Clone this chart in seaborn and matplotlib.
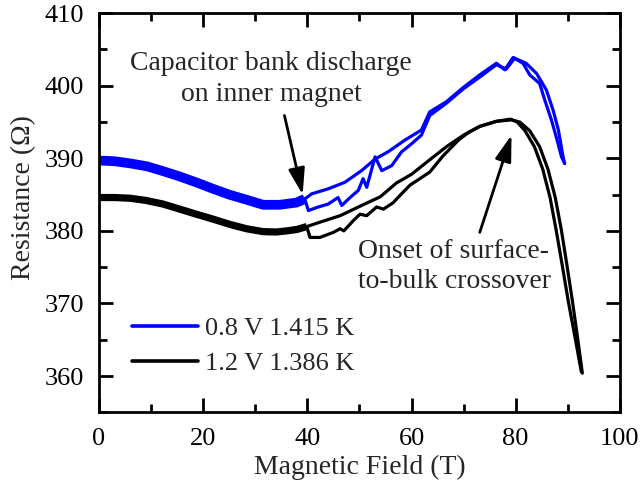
import numpy as np
import pandas as pd
import matplotlib
matplotlib.use("Agg")
import matplotlib.pyplot as plt
import seaborn as sns
from matplotlib.lines import Line2D
from matplotlib.ticker import MultipleLocator

# ---------------- data ----------------
series_labels = ["0.8 V 1.415 K", "1.2 V 1.386 K"]

# 0.8 V : slow outer-magnet part (0-40 T)
blue_outer_B = [0, 3, 6, 9.2, 12, 15.5, 19, 21.9, 25, 28.3, 31.5, 34.7, 37.9, 39.5]
blue_outer_R = [389.7, 389.6, 389.3, 388.9, 388.3, 387.5, 386.6, 385.8, 385.0, 384.3,
                383.6, 383.6, 383.9, 384.4]
# 0.8 V : rising pulse
blue_rise_B = [39.5, 40.2, 42.1, 44.0, 45.9, 46.6, 48.2, 49.8, 50.7, 51.4, 53.0, 54.3,
               56.2, 58.1, 60.0, 61.9, 63.5, 66.7, 70.0, 73.1, 76.3, 78.2, 79.8, 82.0,
               84.0, 85.9, 87.2, 88.2, 89.1, 89.4]
blue_rise_R = [384.4, 382.8, 383.3, 383.7, 384.6, 383.5, 384.6, 385.6, 387.2, 386.0,
               390.2, 388.3, 389.0, 390.9, 392.0, 393.2, 395.9, 397.6, 399.6, 401.2,
               402.9, 402.3, 403.8, 403.1, 401.7, 399.4, 396.6, 393.9, 390.2, 389.3]
# 0.8 V : falling pulse
blue_fall_B = [89.4, 88.8, 87.8, 86.9, 85.6, 84.6, 82.7, 81.4, 79.5, 77.9, 76.3, 73.1,
               70.0, 66.7, 63.5, 61.9, 58.7, 55.5, 53.0, 50.4, 47.2, 44.0, 40.8, 39.5]
blue_fall_R = [389.3, 390.2, 392.9, 395.2, 398.0, 400.3, 401.5, 403.1, 403.9, 402.2,
               403.1, 401.5, 399.8, 397.8, 396.4, 393.9, 392.5, 390.9, 389.9, 388.3,
               386.7, 385.8, 385.1, 384.4]

# 1.2 V : slow outer-magnet part
black_outer_B = [0, 3, 6, 9, 12.3, 15.5, 18.7, 22, 25.1, 28.3, 31.5, 34, 36, 38, 39.9]
black_outer_R = [384.6, 384.6, 384.5, 384.2, 383.7, 383.0, 382.3, 381.6, 380.9, 380.3,
                 379.9, 379.85, 380.0, 380.2, 380.6]
# 1.2 V : rising pulse
black_rise_B = [39.9, 40.5, 42.4, 45.0, 46.3, 47.0, 48.8, 50.1, 51.4, 53.3, 54.6, 56.5,
                57.8, 59.7, 61.6, 63.5, 66.0, 69.0, 71.0, 73.1, 76.3, 79.2, 80.8, 82.7,
                84.6, 86.2, 87.6, 88.8, 89.9, 90.9, 91.8, 92.8]
black_rise_R = [380.6, 379.1, 379.1, 379.8, 380.3, 380.0, 381.4, 382.3, 382.1, 383.3,
                383.0, 383.9, 384.9, 386.3, 387.2, 388.1, 390.3, 392.5, 393.6, 394.4,
                395.1, 395.3, 395.0, 393.8, 391.6, 388.5, 384.6, 380.0, 375.0, 370.3,
                365.7, 360.4]
# 1.2 V : falling pulse
black_fall_B = [92.6, 91.3, 90.1, 89.0, 87.8, 86.6, 85.2, 83.6, 81.8, 80.3, 79.0, 76.3,
                73.1, 70.0, 66.7, 63.5, 60.0, 57.1, 54.0, 50.4, 46.3, 42.4, 39.9]
black_fall_R = [360.6, 365.7, 370.3, 375.0, 380.0, 384.6, 388.5, 391.6, 393.8, 395.0,
                395.4, 395.1, 394.4, 393.2, 391.6, 389.8, 387.8, 386.6, 384.7, 383.5,
                382.1, 381.2, 380.6]

x_ticks = [0, 20, 40, 60, 80, 100]
y_ticks = [360, 370, 380, 390, 400, 410]

# ---------------- build tidy frame ----------------
def seg(B, R, series, part):
    return pd.DataFrame({"B": B, "R": R, "series": series, "part": part})

df = pd.concat([
    seg(blue_outer_B, blue_outer_R, series_labels[0], "outer"),
    seg(blue_rise_B, blue_rise_R, series_labels[0], "rise"),
    seg(blue_fall_B, blue_fall_R, series_labels[0], "fall"),
    seg(black_outer_B, black_outer_R, series_labels[1], "outer"),
    seg(black_rise_B, black_rise_R, series_labels[1], "rise"),
    seg(black_fall_B, black_fall_R, series_labels[1], "fall"),
], ignore_index=True)

colors = {series_labels[0]: "#0000FF", series_labels[1]: "#000000"}
outer_lw = {series_labels[0]: 7.0, series_labels[1]: 5.2}

# ---------------- figure ----------------
sns.set_theme(style="ticks")
plt.rcParams["font.family"] = ["Liberation Serif", "DejaVu Serif"]

fig = plt.figure(figsize=(6.43, 4.88), dpi=100)
ax = fig.add_axes([0.154, 0.155, 0.810, 0.818])

for s in series_labels:
    sub = df[df.series == s]
    for part in ["rise", "fall"]:
        d = sub[sub.part == part]
        sns.lineplot(data=d, x="B", y="R", sort=False, estimator=None, ax=ax,
                     color=colors[s], lw=2.3, legend=False)
    d = sub[sub.part == "outer"]
    sns.lineplot(data=d, x="B", y="R", sort=False, estimator=None, ax=ax,
                 color=colors[s], lw=outer_lw[s], legend=False,
                 solid_capstyle="butt")

ax.set_xlim(0, 100)
ax.set_ylim(355, 410)
ax.set_xticks(x_ticks)
ax.set_yticks(y_ticks)
ax.xaxis.set_minor_locator(MultipleLocator(10))
ax.yaxis.set_minor_locator(MultipleLocator(5))

for sp in ax.spines.values():
    sp.set_visible(True)
    sp.set_linewidth(2.0)
    sp.set_color("black")

ax.tick_params(which="both", direction="in", top=True, right=True, width=2.0,
               color="black", labelcolor="black")
ax.tick_params(which="major", length=10)
ax.tick_params(which="minor", length=5.8)
ax.tick_params(axis="x", which="major", labelsize=19, pad=11)
ax.tick_params(axis="y", which="major", labelsize=19, pad=11)

ax.set_xlabel("Magnetic Field (T)", fontsize=20, labelpad=4)
ax.set_ylabel("Resistance (Ω)", fontsize=20)
ax.yaxis.set_label_coords(-0.121, 0.538)

# legend
handles = [Line2D([], [], color=colors[s], lw=2.6) for s in series_labels]
ax.legend(handles, series_labels, loc="center left", bbox_to_anchor=(0.063, 0.1667),
          frameon=False, borderpad=0, borderaxespad=0, handlelength=2.52,
          handletextpad=0.25, labelspacing=0.43, fontsize=19)

# annotations
arrow = dict(arrowstyle="-|>,head_length=0.8,head_width=0.25", lw=2.0, color="black",
             mutation_scale=20, shrinkA=0, shrinkB=0)
ax.annotate("", xy=(39.1, 385.0), xytext=(35.6, 395.9), arrowprops=arrow)
ax.annotate("", xy=(79.2, 393.2), xytext=(73.1, 379.8), arrowprops=arrow)

ax.text(33.0, 400.9, "Capacitor bank discharge\non inner magnet", ha="center",
        va="center", multialignment="center", linespacing=1.32, fontsize=20)
ax.text(49.7, 375.1, "Onset of surface-\nto-bulk crossover", ha="left",
        va="center", multialignment="left", linespacing=1.3, fontsize=20)

fig.savefig("out.png", dpi=100)
